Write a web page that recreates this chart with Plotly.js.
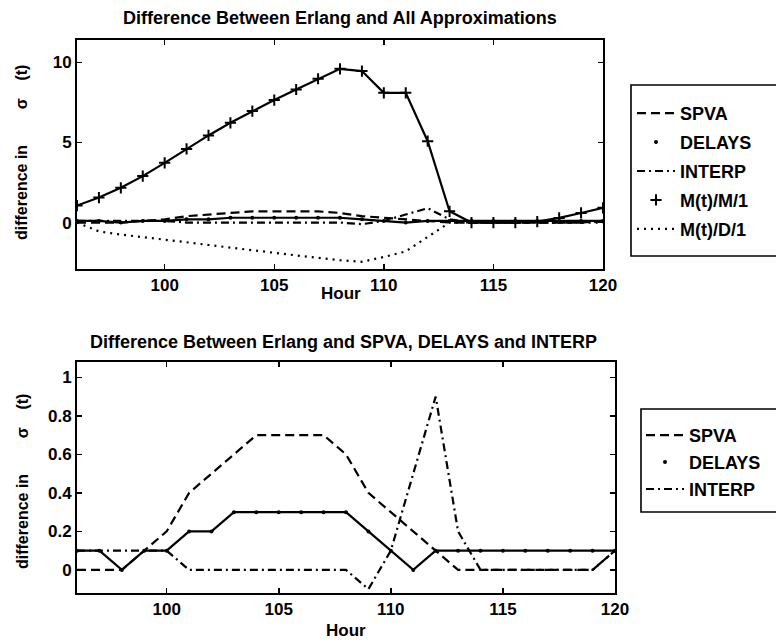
<!DOCTYPE html>
<html>
<head>
<meta charset="utf-8">
<script src="https://cdn.plot.ly/plotly-3.0.1.min.js"></script>
<style>
  html, body { margin: 0; padding: 0; background: #fff; }
  #chart { width: 776px; height: 642px; }
</style>
</head>
<body>
<div id="chart"></div>
<script>
// Hour of the day (simulation clock)
const hours = [96, 97, 98, 99, 100, 101, 102, 103, 104, 105, 106, 107, 108,
               109, 110, 111, 112, 113, 114, 115, 116, 117, 118, 119, 120];

// Difference between the Erlang sigma(t) and each approximation
const spva   = [0, 0, 0, 0.1, 0.2, 0.4, 0.5, 0.6, 0.7, 0.7, 0.7, 0.7, 0.6,
                0.4, 0.3, 0.2, 0.1, 0, 0, 0, 0, 0, 0, 0, 0.1];
const delays = [0.1, 0.1, 0, 0.1, 0.1, 0.2, 0.2, 0.3, 0.3, 0.3, 0.3, 0.3, 0.3,
                0.2, 0.1, 0, 0.1, 0.1, 0.1, 0.1, 0.1, 0.1, 0.1, 0.1, 0.1];
const interp = [0.1, 0.1, 0.1, 0.1, 0.1, 0, 0, 0, 0, 0, 0, 0, 0,
                -0.1, 0.1, 0.5, 0.9, 0.2, 0, 0, 0, 0, 0, 0, 0.1];
const mm1    = [1.06, 1.56, 2.17, 2.9, 3.73, 4.6, 5.44, 6.23, 6.96, 7.65, 8.31, 8.98, 9.6,
                9.46, 8.1, 8.1, 5.08, 0.7, 0, 0, 0, 0.06, 0.29, 0.6, 0.92];
const md1    = [0, -0.55, -0.75, -0.9, -1.06, -1.23, -1.4, -1.57, -1.74, -1.9, -2.05, -2.2, -2.35,
                -2.45, -2.15, -1.8, -0.9, 0, 0, 0, 0, 0, 0, 0, 0];

// Tick labels
const hourTicks = [100, 105, 110, 115, 120];
const topYTicks = [0, 5, 10];
const botYTicks = [0, 0.2, 0.4, 0.6, 0.8, 1];
const botYTickText = ['0', '0.2', '0.4', '0.6', '0.8', '1'];

const W = 776, H = 642;
const fx = p => p / W;
const fy = p => 1 - p / H;

const FONT = 'Liberation Sans, Arial, Helvetica, sans-serif';
const K = '#000';
const DASH = '9px,5px';
const DASHDOT = '8px,4px,2px,4px';
const DOT = '2px,5px';

function line(x, y, dash, xa, ya, name, show, lg) {
  return { x, y, type: 'scatter', mode: 'lines', name, showlegend: show,
           legend: lg, legendgroup: lg + name, xaxis: xa, yaxis: ya, hoverinfo: 'skip',
           line: { color: K, width: 2.2, dash } };
}
function marks(x, y, symbol, size, xa, ya, name, lg) {
  const m = { symbol, size, color: K };
  if (symbol.indexOf('thin') >= 0) m.line = { color: K, width: 2 };
  return { x, y, type: 'scatter', mode: 'markers', name, showlegend: true,
           legend: lg, legendgroup: lg + name, xaxis: xa, yaxis: ya, hoverinfo: 'skip', marker: m };
}

const data = [
  // upper panel: all approximations
  line(hours, delays, 'solid', 'x', 'y', 'DELAYS', false, 'legend'),
  line(hours, mm1, 'solid', 'x', 'y', 'M(t)/M/1', false, 'legend'),
  line(hours, spva, DASH, 'x', 'y', 'SPVA', true, 'legend'),
  marks(hours, delays, 'circle', 4, 'x', 'y', 'DELAYS', 'legend'),
  line(hours, interp, DASHDOT, 'x', 'y', 'INTERP', true, 'legend'),
  marks(hours, mm1, 'cross-thin', 8, 'x', 'y', 'M(t)/M/1', 'legend'),
  line(hours, md1, DOT, 'x', 'y', 'M(t)/D/1', true, 'legend'),
  // lower panel: SPVA, DELAYS, INTERP
  line(hours, delays, 'solid', 'x2', 'y2', 'DELAYS', false, 'legend2'),
  line(hours, spva, DASH, 'x2', 'y2', 'SPVA', true, 'legend2'),
  marks(hours, delays, 'circle', 4, 'x2', 'y2', 'DELAYS', 'legend2'),
  line(hours, interp, DASHDOT, 'x2', 'y2', 'INTERP', true, 'legend2')
];

const tickFont = { family: FONT, size: 17, weight: 'bold', color: K };
function axis(extra) {
  return Object.assign({
    showgrid: false, zeroline: false, showline: true, linecolor: K, linewidth: 2,
    mirror: 'ticks', ticks: 'inside', ticklen: 5, tickwidth: 1.5, tickcolor: K,
    tickfont: tickFont, fixedrange: true
  }, extra);
}

const txt = (text, x, y, size, extra) => Object.assign({
  text, xref: 'paper', yref: 'paper', x: fx(x), y: fy(y),
  xanchor: 'center', yanchor: 'middle', showarrow: false,
  font: { family: FONT, size, weight: 'bold', color: K }
}, extra || {});

const S = '\u00a0';
const yLabel = 'difference in' + S.repeat(8) + '\u03c3' + S.repeat(4) + '(t)';

const legendCommon = {
  bgcolor: 'rgba(0,0,0,0)', borderwidth: 0, xanchor: 'left', yanchor: 'top',
  itemwidth: 38, traceorder: 'grouped',
  font: { family: FONT, size: 18, weight: 'bold', color: K }
};

const layout = {
  width: W, height: H,
  margin: { l: 0, r: 0, t: 0, b: 0 },
  paper_bgcolor: '#fff', plot_bgcolor: '#fff',
  xaxis: axis({ domain: [fx(77), fx(603)], range: [96, 120], tickvals: hourTicks, anchor: 'y' }),
  yaxis: axis({ domain: [fy(269), fy(40)], range: [-2.9, 11.4], tickvals: topYTicks, anchor: 'x' }),
  xaxis2: axis({ domain: [fx(77), fx(615)], range: [96, 120], tickvals: hourTicks, anchor: 'y2' }),
  yaxis2: axis({ domain: [fy(593), fy(362)], range: [-0.12, 1.08], tickvals: botYTicks,
                 ticktext: botYTickText, anchor: 'x2' }),
  legend: Object.assign({ x: fx(632), y: fy(95), tracegroupgap: 2.5 }, legendCommon),
  legend2: Object.assign({ x: fx(641), y: fy(417), tracegroupgap: 0.5 }, legendCommon),
  shapes: [
    { type: 'rect', xref: 'paper', yref: 'paper', x0: fx(631), x1: 1.05, y0: fy(256), y1: fy(85),
      line: { color: K, width: 1.6 } },
    { type: 'rect', xref: 'paper', yref: 'paper', x0: fx(641), x1: 1.05, y0: fy(512), y1: fy(409),
      line: { color: K, width: 1.6 } }
  ],
  annotations: [
    txt('Difference Between Erlang and All Approximations', 340, 18, 18),
    txt('Hour', 341, 293, 17),
    txt(yLabel, 22, 153, 16, { textangle: -90 }),
    txt('Difference Between Erlang and SPVA, DELAYS and INTERP', 343, 342, 18),
    txt('Hour', 346, 630, 17),
    txt(yLabel, 22, 482, 16, { textangle: -90 })
  ]
};

Plotly.newPlot('chart', data, layout, { displayModeBar: false, staticPlot: true });
</script>
</body>
</html>
